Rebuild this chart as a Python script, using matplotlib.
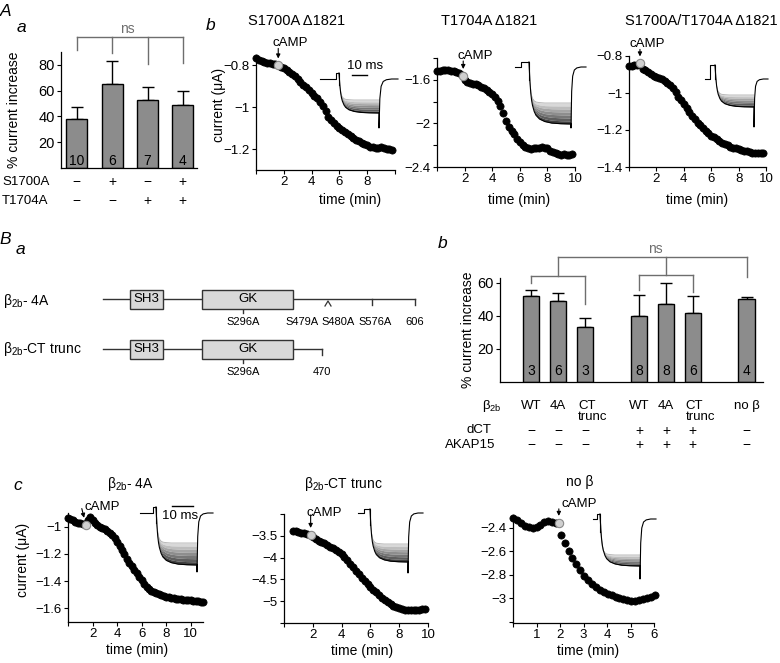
import numpy as np
import matplotlib
matplotlib.use("Agg")
import matplotlib.pyplot as plt
from matplotlib import transforms
from matplotlib.patches import Rectangle

plt.rcParams["font.family"] = ["Liberation Sans", "DejaVu Sans"]
plt.rcParams["mathtext.fontset"] = "custom"
plt.rcParams["mathtext.rm"] = "Liberation Sans"
plt.rcParams["mathtext.it"] = "Liberation Sans:italic"

W, H = 780, 663
TICK_FS = 9.5
BAR_TICK_FS = 10.5
LAB_FS = 9.5
TAB_FS = 9.5
SIGN_FS = 10
TITLE_FS = 10.5
BAR_COLOR = "#8c8c8c"
BRACKET = "#6e6e6e"

# ---------------- data ----------------
# A a : % current increase
aa_means = [38, 65, 53, 49]
aa_errs = [9, 18, 10, 11]
aa_n = ["10", "6", "7", "4"]
aa_s1700a = ["−", "+", "−", "+"]
aa_t1704a = ["−", "−", "+", "+"]

# B b : % current increase
bb_pos = [0, 1, 2, 4, 5, 6, 8]
bb_means = [52, 49, 33.5, 40, 47, 41.5, 50.5]
bb_errs = [4, 5, 5, 13, 13, 10.5, 1]
bb_n = ["3", "6", "3", "8", "8", "6", "4"]
bb_beta = ["WT", "4A", "CT", "WT", "4A", "CT", "no β"]
bb_beta2 = ["", "", "trunc", "", "", "trunc", ""]
bb_dct = ["−", "−", "−", "+", "+", "+", "−"]
bb_akap = ["−", "−", "−", "+", "+", "+", "−"]

# time courses (current in uA, sampled every 0.2 min unless listed)
STEP = 0.2
ab1_cur = [-0.766, -0.772, -0.778, -0.782, -0.786, -0.789, -0.792, -0.795, -0.800, -0.805,
           -0.812, -0.820, -0.830, -0.840, -0.852, -0.865, -0.878, -0.892, -0.905, -0.918,
           -0.932, -0.945, -0.958, -0.975, -0.995, -1.020, -1.045, -1.060, -1.075, -1.088,
           -1.098, -1.108, -1.118, -1.128, -1.138, -1.146, -1.155, -1.162, -1.170, -1.176,
           -1.182, -1.188, -1.190, -1.193, -1.195, -1.190, -1.195, -1.200, -1.200, -1.205]
ab1_camp = (1.6, -0.800)

ab2_cur = [-1.517, -1.515, -1.512, -1.510, -1.510, -1.515, -1.522, -1.530, -1.540, -1.555,
           -1.605, -1.620, -1.628, -1.635, -1.642, -1.650, -1.662, -1.675, -1.690, -1.710,
           -1.730, -1.755, -1.790, -1.840, -1.900, -1.980, -2.030, -2.070, -2.100, -2.140,
           -2.170, -2.200, -2.220, -2.230, -2.235, -2.230, -2.225, -2.230, -2.220, -2.225,
           -2.230, -2.250, -2.260, -2.270, -2.280, -2.290, -2.285, -2.290, -2.290, -2.285]
ab2_camp = (1.9, -1.565)

ab3_cur = [-0.855, -0.852, -0.850, -0.848, -0.845, -0.868, -0.876, -0.888, -0.898, -0.906,
           -0.912, -0.918, -0.925, -0.935, -0.946, -0.958, -0.975, -0.995, -1.020, -1.040,
           -1.060, -1.083, -1.105, -1.125, -1.143, -1.160, -1.175, -1.190, -1.205, -1.218,
           -1.230, -1.240, -1.250, -1.260, -1.268, -1.275, -1.282, -1.290, -1.295, -1.298,
           -1.302, -1.308, -1.312, -1.316, -1.320, -1.322, -1.325, -1.326, -1.324, -1.322]
ab3_camp = (0.8, -0.840)

c1_cur = [-0.935, -0.945, -0.955, -0.965, -0.970, -0.975, -0.980, -0.978, -0.950, -0.930,
          -0.955, -0.975, -0.990, -1.000, -1.010, -1.020, -1.035, -1.050, -1.065, -1.085,
          -1.110, -1.140, -1.170, -1.200, -1.235, -1.265, -1.290, -1.315, -1.340, -1.370,
          -1.395, -1.420, -1.440, -1.455, -1.470, -1.482, -1.490, -1.497, -1.504, -1.510,
          -1.515, -1.520, -1.524, -1.527, -1.530, -1.532, -1.534, -1.536, -1.538, -1.540,
          -1.541, -1.543, -1.545, -1.547, -1.550, -1.555]
c1_camp = (1.45, -0.985)

c2_start = 0.6
c2_cur = [-3.385, -3.400, -3.415, -3.430, -3.445, -3.460, -3.475, -3.520, -3.570, -3.610,
          -3.640, -3.670, -3.710, -3.750, -3.790, -3.830, -3.870, -3.920, -3.990, -4.060,
          -4.140, -4.220, -4.300, -4.380, -4.460, -4.530, -4.600, -4.670, -4.740, -4.800,
          -4.860, -4.920, -4.970, -5.020, -5.060, -5.100, -5.130, -5.160, -5.180, -5.200,
          -5.210, -5.210, -5.200, -5.200, -5.200, -5.190, -5.180]
c2_camp = (1.85, -3.480)

c3_time = [0, 0.17, 0.33, 0.5, 0.67, 0.83, 1.0, 1.17, 1.33, 1.5, 1.67, 1.83, 2.03, 2.2,
           2.37, 2.53, 2.7, 2.87, 3.03, 3.2, 3.37, 3.53, 3.7, 3.87, 4.03, 4.2, 4.37, 4.53,
           4.7, 4.87, 5.03, 5.2, 5.37, 5.53, 5.7, 5.87, 6.03]
c3_cur = [-2.314, -2.335, -2.360, -2.380, -2.395, -2.398, -2.390, -2.374, -2.350, -2.338,
          -2.350, -2.355, -2.460, -2.530, -2.600, -2.660, -2.710, -2.760, -2.810, -2.845,
          -2.875, -2.900, -2.925, -2.945, -2.960, -2.975, -2.985, -2.995, -3.005, -3.015,
          -3.020, -3.020, -3.015, -3.008, -3.000, -2.990, -2.970]
c3_camp = (1.95, -2.357)

# current-trace template for the insets (fraction of the decay reached)
tr_time = [0, 0.5, 1, 1.5, 2, 3, 4, 6, 9, 13, 18, 24]
tr_top = [0, 0.45, 0.70, 0.82, 0.89, 0.95, 0.975, 0.99, 1.0, 1.0, 1.0, 1.0]
tr_bot = [0, 0.30, 0.50, 0.62, 0.70, 0.80, 0.86, 0.92, 0.96, 0.985, 0.995, 1.0]
tail_time = [0, 0.4, 1, 2, 3.5, 6, 9]
tail_frac = [0, 0.60, 0.85, 0.95, 0.985, 1.0, 1.0]

fig = plt.figure(figsize=(W / 100, H / 100), dpi=100)
ov = fig.add_axes([0, 0, 1, 1], zorder=10)
ov.set_xlim(0, W)
ov.set_ylim(H, 0)
ov.axis("off")
ov.patch.set_visible(False)


def px_axes(left, top, right, bottom):
    return fig.add_axes([left / W, 1 - bottom / H, (right - left) / W, (bottom - top) / H])


def style_axes(ax, fs=TICK_FS):
    ax.spines["top"].set_visible(False)
    ax.spines["right"].set_visible(False)
    for s in ("left", "bottom"):
        ax.spines[s].set_linewidth(0.9)
    ax.tick_params(direction="out", length=3, width=0.8, labelsize=fs, pad=1.5)
    ax.patch.set_visible(False)


def px_trans(ax):
    return transforms.blended_transform_factory(ax.transData, ov.transData)


def time_panel(box, t, cur, camp, xlim, xticks, xticklabels, ylim, yticks, yticklabels,
               xlab_x, xlab_y, text_off, arrow_off, ylab=None):
    ax = px_axes(*box)
    style_axes(ax)
    ax.plot(t, cur, "o", color="black", ms=5.2, mec="black", mew=0.5, clip_on=False)
    ax.plot([camp[0]], [camp[1]], "o", color="#d0d0d0", mec="#8a8a8a", ms=6, mew=0.8,
            zorder=4, clip_on=False)
    ax.set_xlim(*xlim)
    ax.set_ylim(*ylim)
    ax.set_xticks(xticks)
    ax.set_xticklabels(xticklabels)
    ax.set_yticks(yticks)
    ax.set_yticklabels(yticklabels)
    # cAMP marker
    ax.annotate("cAMP", xy=camp, xytext=(text_off[0] * 0.72, text_off[1] * 0.72),
                textcoords="offset points", ha="center", va="center", fontsize=LAB_FS)
    ax.annotate("", xy=camp, xycoords="data",
                xytext=(arrow_off[0] * 0.72, arrow_off[1] * 0.72), textcoords="offset points",
                arrowprops=dict(arrowstyle="-|>", lw=0.8, color="black", mutation_scale=6,
                                shrinkA=0, shrinkB=5))
    ov.text(xlab_x, xlab_y, "time (min)", ha="center", va="center", fontsize=10)
    if ylab is not None:
        ov.text(ylab[0], ylab[1], "current (μA)", rotation=90, ha="center", va="center",
                fontsize=10)
    return ax


def trace_inset(x0, x1, x2, x3, x4, yb, ys, yt, ybot, yspk):
    span = x3 - x2
    xs = [x2 + v / tr_time[-1] * span for v in tr_time]
    top = [ys + f * (yt - ys) for f in tr_top]
    bot = [ys + f * (ybot - ys) for f in tr_bot]
    shades = ["#d8d8d8", "#bdbdbd", "#a5a5a5", "#8e8e8e", "#777777", "#5e5e5e", "#404040"]
    nb = len(shades)
    for k, c in enumerate(shades):
        lo = [a + (b - a) * k / nb for a, b in zip(top, bot)]
        hi = [a + (b - a) * (k + 1) / nb for a, b in zip(top, bot)]
        ov.fill_between(xs, lo, hi, color=c, lw=0)
    ov.plot(xs, top, color="#b0b0b0", lw=0.6)
    ov.plot(xs, bot, color="black", lw=0.8)
    ov.plot([x0, x1, x1, x2, x2], [yb, yb, ys, ys, top[1]], color="black", lw=0.8)
    tx = [x3 + v / tail_time[-1] * (x4 - x3) for v in tail_time]
    ty = [yspk + f * (yb - yspk) for f in tail_frac]
    ov.plot([x3, x3] + tx, [ybot, yspk] + ty, color="black", lw=0.8)


# ---------------- panel letters ----------------
for x, y, s in [(6, 12, "A"), (21, 28, "a"), (211, 26, "b"), (5, 240, "B"),
                (20, 250, "a"), (443, 243, "b"), (18, 486, "c")]:
    ov.text(x, y, s, fontsize=12.5, style="italic", ha="center", va="center")

# ---------------- A a ----------------
axa = px_axes(61, 52, 197, 168)
style_axes(axa, BAR_TICK_FS)
xa = np.arange(len(aa_means))
axa.bar(xa, aa_means, width=0.6, color=BAR_COLOR, edgecolor="black", lw=1, zorder=2)
axa.errorbar(xa, aa_means, yerr=[np.zeros(len(aa_errs)), aa_errs], fmt="none",
             ecolor="black", elinewidth=1, capsize=4.5, capthick=1, zorder=1)
axa.set_xlim(-0.45, 3.4)
axa.set_ylim(0, 90)
axa.set_yticks([20, 40, 60, 80])
axa.set_xticks([])
for i, n in enumerate(aa_n):
    axa.text(i, 5.5, n, ha="center", va="center", fontsize=10)
ov.text(14, 110, "% current increase", rotation=90, ha="center", va="center", fontsize=10)
ta = px_trans(axa)
ov.text(2, 182, "S1700A", ha="left", va="center", fontsize=TAB_FS)
ov.text(2, 201, "T1704A", ha="left", va="center", fontsize=TAB_FS)
for i in range(4):
    axa.text(i, 182, aa_s1700a[i], transform=ta, ha="center", va="center", fontsize=SIGN_FS)
    axa.text(i, 201, aa_t1704a[i], transform=ta, ha="center", va="center", fontsize=SIGN_FS)
axa.plot([0, 3], [37, 37], transform=ta, color=BRACKET, lw=1, clip_on=False)
for i, yb in zip(range(4), [50, 53, 64, 63]):
    axa.plot([i, i], [37, yb], transform=ta, color=BRACKET, lw=1, clip_on=False)
ov.text(127, 29, "ns", ha="center", va="center", fontsize=10, color=BRACKET)

# ---------------- A b ----------------
ov.text(297, 21, "S1700A Δ1821", ha="center", va="center", fontsize=TITLE_FS)
ov.text(489, 21, "T1704A Δ1821", ha="center", va="center", fontsize=TITLE_FS)
ov.text(701, 21, "S1700A/T1704A Δ1821", ha="center", va="center", fontsize=TITLE_FS)

t_ab = np.arange(len(ab1_cur)) * STEP
time_panel((256, 55, 395, 170), t_ab, ab1_cur, ab1_camp, (0, 10), [0, 2, 4, 6, 8, 10],
           ["", "2", "4", "6", "8", ""], (-1.3, -0.75), [-1.2, -1.0, -0.8],
           ["−1.2", "−1", "−0.8"], 350, 200, (12, 22), (0, 17), ylab=(219, 105))
time_panel((437, 58, 575, 167), t_ab, ab2_cur, ab2_camp, (0, 10), [0, 2, 4, 6, 8, 10],
           ["", "2", "4", "6", "8", "10"], (-2.4, -1.4),
           [-2.4, -2.2, -2.0, -1.8, -1.6, -1.4], ["−2.4", "", "−2", "", "−1.6", ""],
           519, 200, (12, 20), (0, 15))
time_panel((629, 56, 766, 167), t_ab, ab3_cur, ab3_camp, (0, 10), [0, 2, 4, 6, 8, 10],
           ["", "2", "4", "6", "8", "10"], (-1.4, -0.8), [-1.4, -1.2, -1.0, -0.8],
           ["−1.4", "−1.2", "−1", "−0.8"], 697, 200, (7, 19), (0, 14))

trace_inset(320, 336, 339, 379, 398, 79, 73, 100, 113, 128)
trace_inset(515, 521, 529, 571, 586, 67, 62, 103, 124, 128)
trace_inset(705, 710, 715, 754, 768, 79, 65, 95, 107, 127)
ov.plot([352, 367], [75, 75], color="black", lw=1)
ov.text(365, 66, "10 ms", ha="center", va="center", fontsize=LAB_FS)

# ---------------- B a : domain diagrams ----------------
ov.text(3, 301, r"β$_{\mathrm{2b}}$- 4A", ha="left", va="center", fontsize=10)
ov.text(3, 349, r"β$_{\mathrm{2b}}$-CT trunc", ha="left", va="center", fontsize=10)
for y, x_end in [(299, 415), (349, 322)]:
    ov.plot([103, x_end], [y, y], color="#333333", lw=1)
    ov.plot([x_end, x_end], [y, y + 6], color="#333333", lw=1)
    for bx0, bx1, name in [(130, 163, "SH3"), (202, 293, "GK")]:
        ov.add_patch(Rectangle((bx0, y - 9.5), bx1 - bx0, 19, facecolor="#d9d9d9",
                               edgecolor="#333333", lw=1, zorder=3))
        ov.text((bx0 + bx1) / 2, y, name, ha="center", va="center", fontsize=9.5, zorder=4)
    ov.plot([243, 243], [y + 9.5, y + 14], color="#333333", lw=1)
ov.plot([372, 372], [299, 305], color="#333333", lw=1)
ov.plot([325, 328, 331], [306, 301, 306], color="#333333", lw=0.9)
for x, s in [(243, "S296A"), (302, "S479A"), (338, "S480A"), (375, "S576A"), (415, "606")]:
    ov.text(x, 322, s, ha="center", va="center", fontsize=8)
for x, s in [(243, "S296A"), (322, "470")]:
    ov.text(x, 372, s, ha="center", va="center", fontsize=8)

# ---------------- B b ----------------
axb = px_axes(500, 278, 763, 382)
style_axes(axb, BAR_TICK_FS)
axb.bar(bb_pos, bb_means, width=0.62, color=BAR_COLOR, edgecolor="black", lw=1, zorder=2)
axb.errorbar(bb_pos, bb_means, yerr=[np.zeros(len(bb_errs)), bb_errs], fmt="none",
             ecolor="black", elinewidth=1, capsize=4, capthick=1, zorder=1)
axb.set_xlim(-1.15, 8.6)
axb.set_ylim(0, 63)
axb.set_yticks([20, 40, 60])
axb.set_xticks([])
for p, n in zip(bb_pos, bb_n):
    axb.text(p, 6.5, n, ha="center", va="center", fontsize=10)
ov.text(468, 330, "% current increase", rotation=90, ha="center", va="center",
        fontsize=10)
tb = px_trans(axb)
ov.text(492, 406, r"β$_{\mathrm{2b}}$", ha="center", va="center", fontsize=TAB_FS)
ov.text(491, 430, "dCT", ha="right", va="center", fontsize=TAB_FS)
ov.text(495, 445, "AKAP15", ha="right", va="center", fontsize=TAB_FS)
for p, s1, s2, d, a in zip(bb_pos, bb_beta, bb_beta2, bb_dct, bb_akap):
    if s2:
        axb.text(p - 0.26, 406, s1, transform=tb, ha="left", va="center", fontsize=TAB_FS)
        axb.text(p - 0.26, 417, s2, transform=tb, ha="left", va="center", fontsize=TAB_FS)
    else:
        axb.text(p, 406, s1, transform=tb, ha="center", va="center", fontsize=TAB_FS)
    axb.text(p, 431, d, transform=tb, ha="center", va="center", fontsize=SIGN_FS)
    axb.text(p, 445, a, transform=tb, ha="center", va="center", fontsize=SIGN_FS)
# brackets
for xs_, ys_ in [([0, 2], [276, 276]), ([0, 0], [276, 283]), ([2, 2], [276, 304]),
                 ([4, 6], [275, 275]), ([4, 4], [275, 290]), ([6, 6], [275, 292]),
                 ([1, 8], [257, 257]), ([1, 1], [257, 276]), ([5, 5], [257, 275]),
                 ([8, 8], [257, 277])]:
    axb.plot(xs_, ys_, transform=tb, color=BRACKET, lw=1, clip_on=False)
ov.text(655, 249, "ns", ha="center", va="center", fontsize=10, color=BRACKET)

# ---------------- B c ----------------
ov.text(130, 484, r"β$_{\mathrm{2b}}$- 4A", ha="center", va="center", fontsize=10)
ov.text(343, 484, r"β$_{\mathrm{2b}}$-CT trunc", ha="center", va="center", fontsize=10)
ov.text(580, 482, "no β", ha="center", va="center", fontsize=10)

t_c1 = np.arange(len(c1_cur)) * STEP
t_c2 = c2_start + np.arange(len(c2_cur)) * STEP
time_panel((68, 513, 203, 622), t_c1, c1_cur, c1_camp, (0, 11), [0, 2, 4, 6, 8, 10],
           ["", "2", "4", "6", "8", "10"], (-1.7, -0.9), [-1.6, -1.4, -1.2, -1.0],
           ["−1.6", "−1.4", "−1.2", "−1"], 137, 650, (16, 18), (-4, 16), ylab=(23, 560))
time_panel((284, 514, 428, 623), t_c2, c2_cur, c2_camp, (0, 10), [0, 2, 4, 6, 8, 10],
           ["", "2", "4", "6", "8", "10"], (-5.5, -3.0),
           [-5.5, -5.0, -4.5, -4.0, -3.5, -3.0], ["", "−5", "−4.5", "−4", "−3.5", ""],
           362, 651, (14, 22), (0, 20))
time_panel((513, 515, 654, 623), c3_time, c3_cur, c3_camp, (0, 6), [0, 1, 2, 3, 4, 5, 6],
           ["", "1", "2", "3", "4", "5", "6"], (-3.21, -2.29),
           [-3.2, -3.0, -2.8, -2.6, -2.4], ["", "−3", "−2.8", "−2.6", "−2.4"],
           588, 651, (20, 19), (0, 14))

trace_inset(140, 153, 156, 197, 213, 513, 507, 543, 565, 572)
trace_inset(358, 364, 370, 408, 423, 513, 509, 544, 562, 573)
trace_inset(593, 597, 600, 640, 656, 519, 514, 555, 566, 579)
ov.plot([172, 193], [506, 506], color="black", lw=1)
ov.text(180, 516, "10 ms", ha="center", va="center", fontsize=LAB_FS)

fig.savefig("out.png", dpi=100)
